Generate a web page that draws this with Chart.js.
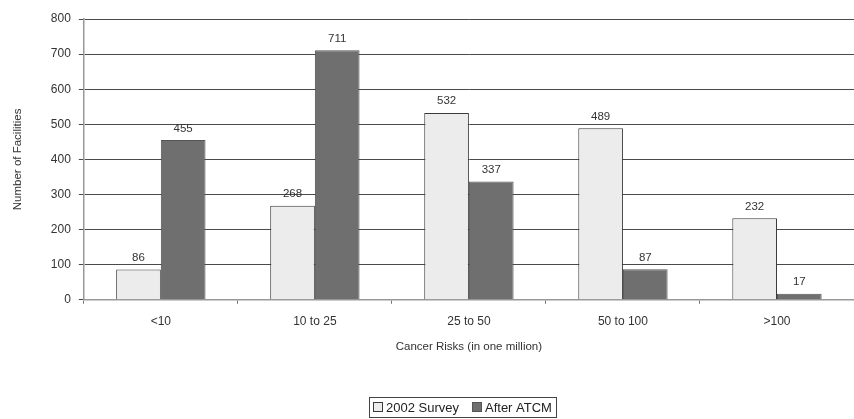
<!DOCTYPE html>
<html>
<head>
<meta charset="utf-8">
<script src="https://cdn.jsdelivr.net/npm/chart.js@4/dist/chart.umd.min.js"></script>
<style>
  html, body { margin: 0; padding: 0; background: #fff; }
  #wrap { width: 854px; height: 419px; position: relative; }
</style>
</head>
<body>
<div id="wrap"><canvas id="grafico"></canvas></div>
<script>
// dados
const faixas = ["<10", "10 to 25", "25 to 50", "50 to 100", ">100"]
const survey2002 = [86, 268, 532, 489, 232]
const afterATCM = [455, 711, 337, 87, 17]
const yTicks = [0, 100, 200, 300, 400, 500, 600, 700, 800]

const fonte = '"Liberation Sans", Arial, sans-serif'

// rótulos em cima das barras
const rotulos = {
  id: 'rotulos',
  afterDatasetsDraw(chart) {
    const ctx = chart.ctx
    ctx.save()
    ctx.font = '11.5px ' + fonte
    ctx.fillStyle = '#333'
    ctx.textAlign = 'center'
    ctx.textBaseline = 'bottom'
    chart.data.datasets.forEach(function (ds, i) {
      chart.getDatasetMeta(i).data.forEach(function (bar, j) {
        ctx.fillText(ds.data[j], bar.x, bar.y - 6)
      })
    })
    ctx.restore()
  }
}

// legenda com caixa, embaixo no centro
const legendaCaixa = {
  id: 'legendaCaixa',
  afterDraw(chart) {
    const ctx = chart.ctx
    const ds = chart.data.datasets
    ctx.save()
    ctx.font = '13px ' + fonte
    ctx.textBaseline = 'middle'
    const quad = 10, gapTxt = 3, gapItem = 13, pad = 4
    let total = pad * 2
    ds.forEach(function (d, i) {
      total += quad + gapTxt + ctx.measureText(d.label).width
      if (i < ds.length - 1) total += gapItem
    })
    const cx = (chart.chartArea.left + chart.chartArea.right) / 2 - 6
    const cy = chart.height - 12
    let x = Math.round(cx - total / 2)
    ctx.strokeStyle = '#444'
    ctx.lineWidth = 1
    ctx.strokeRect(x + 0.5, Math.round(cy - 10) + 0.5, Math.round(total), 20)
    x += pad
    ds.forEach(function (d) {
      ctx.fillStyle = d.backgroundColor
      ctx.fillRect(x, cy - quad / 2, quad, quad)
      ctx.strokeStyle = d.borderColor
      ctx.strokeRect(x + 0.5, cy - quad / 2 + 0.5, quad - 1, quad - 1)
      x += quad + gapTxt
      ctx.fillStyle = '#222'
      ctx.fillText(d.label, x, cy + 1)
      x += ctx.measureText(d.label).width + gapItem
    })
    ctx.restore()
  }
}

new Chart(document.getElementById('grafico'), {
  type: 'bar',
  data: {
    labels: faixas,
    datasets: [{
      label: '2002 Survey',
      data: survey2002,
      backgroundColor: '#ececec',
      borderColor: '#3a3a3a',
      borderWidth: 1,
      barPercentage: 1,
      categoryPercentage: 0.58
    }, {
      label: 'After ATCM',
      data: afterATCM,
      backgroundColor: '#6f6f6f',
      borderColor: '#555',
      borderWidth: 1,
      barPercentage: 1,
      categoryPercentage: 0.58
    }]
  },
  options: {
    responsive: true,
    maintainAspectRatio: false,
    animation: false,
    layout: { padding: { left: 11, top: 19, right: 0, bottom: 65 } },
    plugins: {
      tooltip: { enabled: false },
      legend: { display: false }
    },
    scales: {
      x: {
        grid: { display: true, drawOnChartArea: false, drawTicks: true, tickLength: 4, color: '#777' },
        border: { display: true, color: '#999', width: 1.5 },
        ticks: { color: '#333', font: { family: fonte, size: 12 }, padding: 11 },
        title: {
          display: true,
          text: 'Cancer Risks (in one million)',
          color: '#333',
          font: { family: fonte, size: 11.5 },
          padding: { top: 0, bottom: 0 }
        }
      },
      y: {
        min: 0,
        max: 800,
        afterBuildTicks(scale) { scale.ticks = yTicks.map(v => ({ value: v })) },
        grid: { color: '#4a4a4a', lineWidth: 1, drawTicks: true, tickLength: 5 },
        border: { display: true, color: '#999', width: 1.5 },
        ticks: { color: '#333', font: { family: fonte, size: 12 }, padding: 8 },
        title: {
          display: true,
          text: 'Number of Facilities',
          color: '#333',
          font: { family: fonte, size: 11.5 },
          padding: { top: 0, bottom: 18 }
        }
      }
    }
  },
  plugins: [rotulos, legendaCaixa]
})
</script>
</body>
</html>
